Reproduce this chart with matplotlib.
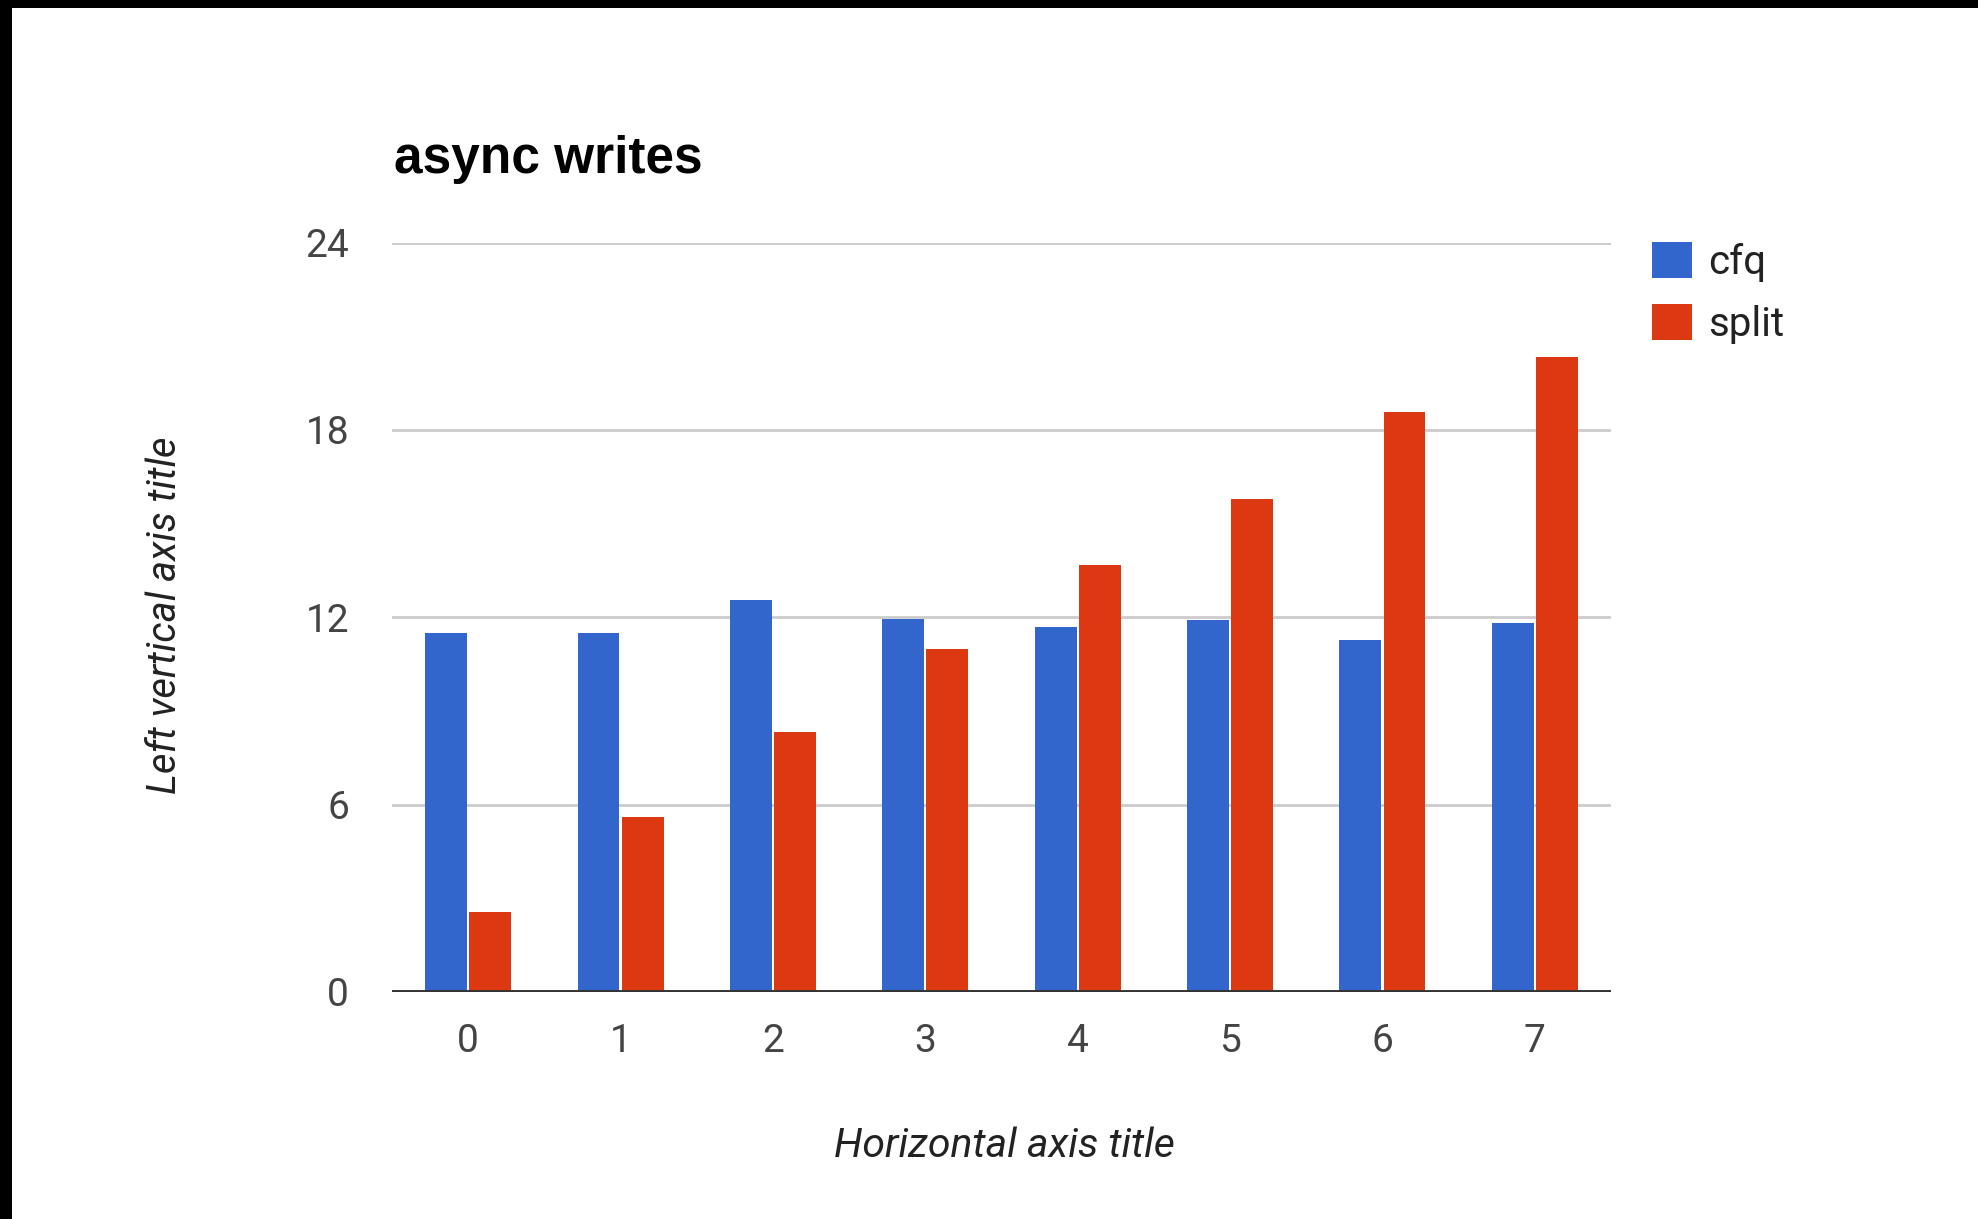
import matplotlib
matplotlib.use("Agg")
import matplotlib.pyplot as plt
import numpy as np
from matplotlib.patches import Rectangle, Patch

# Data
categories = ["0", "1", "2", "3", "4", "5", "6", "7"]
cfq = [11.5, 11.5, 12.55, 11.93, 11.7, 11.9, 11.27, 11.8]
split = [2.55, 5.6, 8.33, 10.97, 13.68, 15.8, 18.56, 20.33]
y_ticks = [0, 6, 12, 18, 24]
series_names = ["cfq", "split"]

BLUE = "#3366cc"
RED = "#dc3912"
NARROW = ["Roboto", "DejaVu Sans"]

W, H = 1978, 1219
fig = plt.figure(figsize=(W / 100, H / 100), dpi=100)
fig.patch.set_facecolor("white")

# dark frame along the top and left edges
fig.patches.append(Rectangle((0, 1 - 8 / H), 1, 8 / H, transform=fig.transFigure,
                             facecolor="black", edgecolor="none", zorder=10))
fig.patches.append(Rectangle((0, 0), 12 / W, 1, transform=fig.transFigure,
                             facecolor="black", edgecolor="none", zorder=10))

ax = fig.add_axes([392 / W, 227 / H, 1219 / W, 749.5 / H])

x = np.arange(len(categories))
bw = 0.275
off = 0.145
ax.bar(x - off, cfq, width=bw, color=BLUE, zorder=3, label=series_names[0])
ax.bar(x + off, split, width=bw, color=RED, zorder=3, label=series_names[1])

ax.set_xlim(-0.5, len(categories) - 0.5)
ax.set_ylim(0, 24)
ax.set_yticks(y_ticks)
ax.set_xticks(x)
ax.set_xticklabels(categories)

for s in ax.spines.values():
    s.set_visible(False)
ax.grid(axis="y", color="#cccccc", linewidth=2, zorder=0)
ax.axhline(0, color="#333333", linewidth=2.8, zorder=4)
ax.tick_params(axis="both", length=0, labelsize=28, colors="#444444")
ax.tick_params(axis="y", pad=31)
ax.tick_params(axis="x", pad=22)
for lab in ax.get_xticklabels() + ax.get_yticklabels():
    lab.set_family(NARROW)

fig.text(394 / W, 1 - 159 / H, "async writes", fontsize=37, fontweight="bold",
         color="black", ha="left", va="center", family=["Liberation Sans", "DejaVu Sans"])

fig.text(1004 / W, 1 - 1146 / H, "Horizontal axis title", fontsize=29.5, style="italic",
         color="#222222", ha="center", va="center", family=NARROW)
fig.text(165 / W, 1 - 615 / H, "Left vertical axis title", fontsize=28.8, style="italic",
         color="#222222", ha="center", va="center", rotation=90, family=NARROW)

handles = [Patch(facecolor=BLUE, edgecolor="none"), Patch(facecolor=RED, edgecolor="none")]
leg = fig.legend(handles, series_names, loc="upper left",
                 bbox_to_anchor=(1636 / W, 1 - 226 / H), frameon=False,
                 prop={"family": NARROW, "size": 29}, labelcolor="#222222",
                 handlelength=1.0, handleheight=1.0, handletextpad=0.4,
                 labelspacing=0.55, borderaxespad=0)

fig.savefig("out.png", dpi=100)
